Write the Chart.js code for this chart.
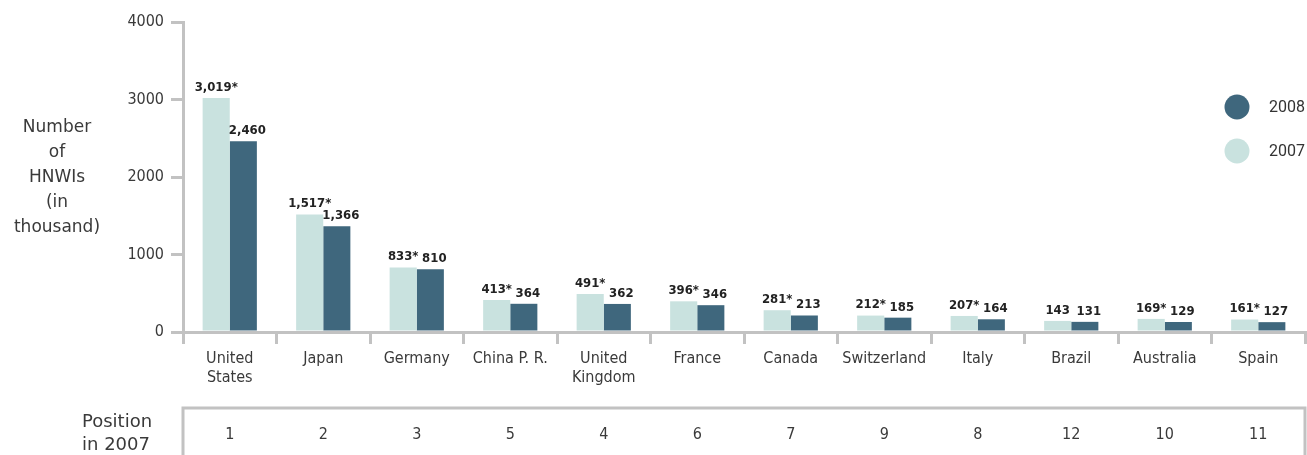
<!DOCTYPE html>
<html>
<head>
<meta charset="utf-8">
<script src="https://cdn.jsdelivr.net/npm/chart.js@4"></script>
<style>
  body { margin: 0; background: #fff; }
  canvas { display: block; }
</style>
</head>
<body>
<canvas id="hnwi-chart" width="1307" height="455"></canvas>
<script>
const COUNTRIES = [['United', 'States'], 'Japan', 'Germany', 'China P. R.', ['United', 'Kingdom'], 'France', 'Canada', 'Switzerland', 'Italy', 'Brazil', 'Australia', 'Spain'];
const HNWI_2007 = [3019, 1517, 833, 413, 491, 396, 281, 212, 207, 143, 169, 161];
const HNWI_2008 = [2460, 1366, 810, 364, 362, 346, 213, 185, 164, 131, 129, 127];
const STAR_2007 = [true, true, true, true, true, true, true, true, true, false, true, true];
const POSITION_2007 = [1, 2, 3, 5, 4, 6, 7, 9, 8, 12, 10, 11];
const Y_TICKS = [0, 1000, 2000, 3000, 4000];

const LIGHT = '#c9e2df';
const DARK = '#3f677d';
const AXIS_GREY = '#c2c2c2';
const TEXT = '#3a3a3a';
const FONT = '"DejaVu Sans Condensed", "DejaVu Sans", sans-serif';
const WIDE_FONT = '"DejaVu Sans", sans-serif';

function fmt(v) { return v.toLocaleString('en-US'); }

// value labels above the bars
const valueLabels = {
  id: 'valueLabels',
  afterDatasetsDraw(chart) {
    const ctx = chart.ctx;
    ctx.save();
    ctx.font = 'bold 13px ' + FONT;
    ctx.fillStyle = '#222';
    ctx.textAlign = 'center';
    ctx.textBaseline = 'bottom';
    chart.data.datasets.forEach((ds, di) => {
      chart.getDatasetMeta(di).data.forEach((bar, i) => {
        let txt = fmt(ds.data[i]);
        let dx = 0;
        if (di === 0 && STAR_2007[i]) txt += '*';
        if (di === 1) dx = 4;
        ctx.fillText(txt, bar.x + dx, bar.y - 4);
      });
    });
    ctx.restore();
  }
};

// axis title, legend and the "position in 2007" row
const extras = {
  id: 'extras',
  afterDraw(chart) {
    const ctx = chart.ctx;
    const area = chart.chartArea;
    const x = chart.scales.x;
    ctx.save();

    ctx.fillStyle = TEXT;
    ctx.font = '17px ' + WIDE_FONT;
    ctx.textAlign = 'center';
    ctx.textBaseline = 'middle';
    ['Number', 'of', 'HNWIs', '(in', 'thousand)'].forEach((t, i) => {
      ctx.fillText(t, 57, 128 + i * 25);
    });

    // legend, 2008 on top
    const legend = [{label: '2008', color: DARK, y: 107}, {label: '2007', color: LIGHT, y: 151}];
    legend.forEach(item => {
      ctx.fillStyle = item.color;
      ctx.beginPath();
      ctx.arc(1237, item.y, 12.5, 0, Math.PI * 2);
      ctx.fill();
      ctx.fillStyle = '#333';
      ctx.font = '16px Roboto, sans-serif';
      ctx.textAlign = 'left';
      ctx.fillText(item.label, 1269, item.y + 1);
    });

    // position table
    ctx.strokeStyle = AXIS_GREY;
    ctx.lineWidth = 3;
    ctx.beginPath();
    ctx.moveTo(area.left, 455);
    ctx.lineTo(area.left, 408);
    ctx.lineTo(area.right, 408);
    ctx.lineTo(area.right, 455);
    ctx.stroke();

    ctx.fillStyle = TEXT;
    ctx.font = '18px ' + WIDE_FONT;
    ctx.textAlign = 'left';
    ctx.fillText('Position', 82, 422);
    ctx.fillText('in 2007', 82, 445);

    ctx.font = '16px ' + FONT;
    ctx.textAlign = 'center';
    POSITION_2007.forEach((p, i) => {
      ctx.fillText(String(p), x.getPixelForValue(i), 435);
    });
    ctx.restore();
  }
};

new Chart(document.getElementById('hnwi-chart'), {
  type: 'bar',
  data: {
    labels: COUNTRIES,
    datasets: [
      { label: '2007', data: HNWI_2007, backgroundColor: LIGHT },
      { label: '2008', data: HNWI_2008, backgroundColor: DARK }
    ]
  },
  options: {
    responsive: false,
    animation: false,
    layout: { padding: { top: 22, right: 2, left: 0, bottom: 0 } },
    categoryPercentage: 0.58,
    barPercentage: 1.0,
    plugins: { legend: { display: false }, tooltip: { enabled: false } },
    scales: {
      x: {
        offset: true,
        grid: { offset: true, drawOnChartArea: false, drawTicks: true, tickLength: 12, lineWidth: 3, color: AXIS_GREY },
        border: { display: true, color: AXIS_GREY, width: 3 },
        ticks: { color: TEXT, font: { family: FONT, size: 16, lineHeight: 1.15 }, padding: 6, maxRotation: 0, autoSkip: false },
        afterFit(scale) { scale.height = 123; }
      },
      y: {
        min: 0,
        max: 4000,
        afterBuildTicks(scale) { scale.ticks = Y_TICKS.map(v => ({value: v})); },
        grid: { drawOnChartArea: false, drawTicks: true, tickLength: 12, lineWidth: 3, color: AXIS_GREY },
        border: { display: true, color: AXIS_GREY, width: 3 },
        ticks: { color: TEXT, font: { family: FONT, size: 16 }, padding: 7, callback: v => String(v) },
        afterFit(scale) { scale.width = 183; }
      }
    }
  },
  plugins: [valueLabels, extras]
});
</script>
</body>
</html>
